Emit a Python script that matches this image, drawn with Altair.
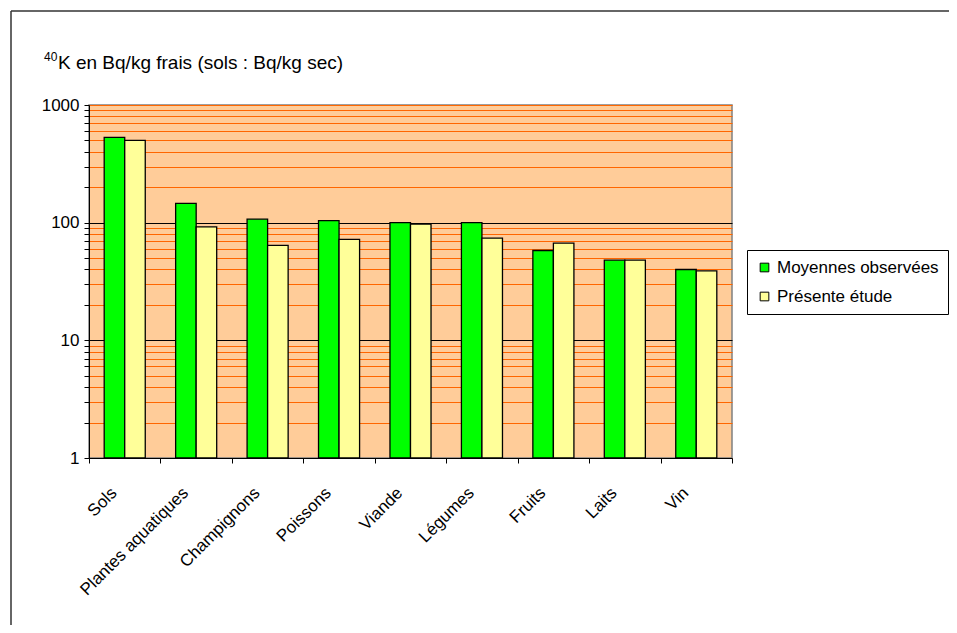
import altair as alt
import pandas as pd

categories = ["Sols", "Plantes aquatiques", "Champignons", "Poissons", "Viande",
              "Légumes", "Fruits", "Laits", "Vin"]
series_names = ["Moyennes observées", "Présente étude"]
moyennes = [530, 146, 107, 104, 100, 100, 58, 48, 40]
presente = [500, 92, 64, 72, 97, 74, 67, 48, 39]
y_ticks = [1, 2, 3, 4, 5, 6, 7, 8, 9, 10, 20, 30, 40, 50, 60, 70, 80, 90,
           100, 200, 300, 400, 500, 600, 700, 800, 900, 1000]
colors = ["#00FF00", "#FFFF99"]

rows = []
for c, a, b in zip(categories, moyennes, presente):
    rows.append({"cat": c, "serie": series_names[0], "val": a})
    rows.append({"cat": c, "serie": series_names[1], "val": b})
df = pd.DataFrame(rows)

W, H = 643, 353
FONT = "Liberation Sans"

bars = alt.Chart(df).mark_bar(stroke="black", strokeWidth=1.3).encode(
    x=alt.X("cat:N", sort=categories, title=None,
            scale=alt.Scale(paddingInner=0, paddingOuter=0),
            axis=alt.Axis(labelAngle=-45, labelAlign="right", labelBaseline="middle",
                          labelPadding=27, labelOffset=-11, tickBand="extent",
                          tickSize=5, tickColor="black", domainColor="black",
                          labelFont=FONT, labelFontSize=17, labelColor="black",
                          grid=False)),
    xOffset=alt.XOffset("serie:N", sort=series_names,
                        scale=alt.Scale(paddingInner=0, paddingOuter=0.74)),
    y=alt.Y("val:Q", title=None,
            scale=alt.Scale(type="log", domain=[1, 1000], nice=False),
            axis=alt.Axis(values=y_ticks, tickSize=5, tickColor="black",
                          domainColor="black", labelFont=FONT, labelFontSize=17,
                          labelColor="black", labelPadding=5,
                          labelExpr="(datum.value==1||datum.value==10||datum.value==100||datum.value==1000) ? toString(datum.value) : ''",
                          grid=True,
                          gridColor={"condition": {"test": "datum.value==10 || datum.value==100",
                                                   "value": "black"},
                                     "value": "#FF6600"},
                          gridOpacity=1, gridWidth=1)),
    y2=alt.Y2(datum=1),
    color=alt.Color("serie:N", sort=series_names,
                    scale=alt.Scale(domain=series_names, range=colors),
                    legend=alt.Legend(title=None, orient="none", legendX=658, legendY=145,
                                      strokeColor="black", fillColor="white",
                                      padding=9, symbolType="square", symbolSize=75,
                                      symbolStrokeColor="black", symbolStrokeWidth=1,
                                      labelFont=FONT, labelFontSize=17, labelColor="black",
                                      rowPadding=11, labelLimit=300)),
)

title_df = pd.DataFrame({"t": ["K en Bq/kg frais (sols : Bq/kg sec)"], "s": ["40"]})
title_main = alt.Chart(title_df).mark_text(
    align="left", baseline="alphabetic", font=FONT, fontSize=19, color="black"
).encode(text="t:N", x=alt.value(-31), y=alt.value(-36))
title_sup = alt.Chart(title_df).mark_text(
    align="left", baseline="alphabetic", font=FONT, fontSize=12, color="black"
).encode(text="s:N", x=alt.value(-45), y=alt.value(-44))

frame_df = pd.DataFrame({"k": [0]})
frame_top = alt.Chart(frame_df).mark_rule(color="#333333", strokeWidth=1.5).encode(
    x=alt.value(-78), x2=alt.value(870), y=alt.value(-94))
frame_left = alt.Chart(frame_df).mark_rule(color="#333333", strokeWidth=1.5).encode(
    x=alt.value(-78), y=alt.value(-94), y2=alt.value(530))

chart = alt.layer(frame_top, frame_left, bars, title_main, title_sup).properties(
    width=W, height=H,
    background="white",
    padding={"left": 81, "top": 97, "right": 217, "bottom": 167},
    autosize=alt.AutoSizeParams(type="none"),
).configure_view(fill="#FFCC99", stroke="#808080", strokeWidth=1.5)

chart.save("out.html", embed_options={"renderer": "svg", "actions": False})
